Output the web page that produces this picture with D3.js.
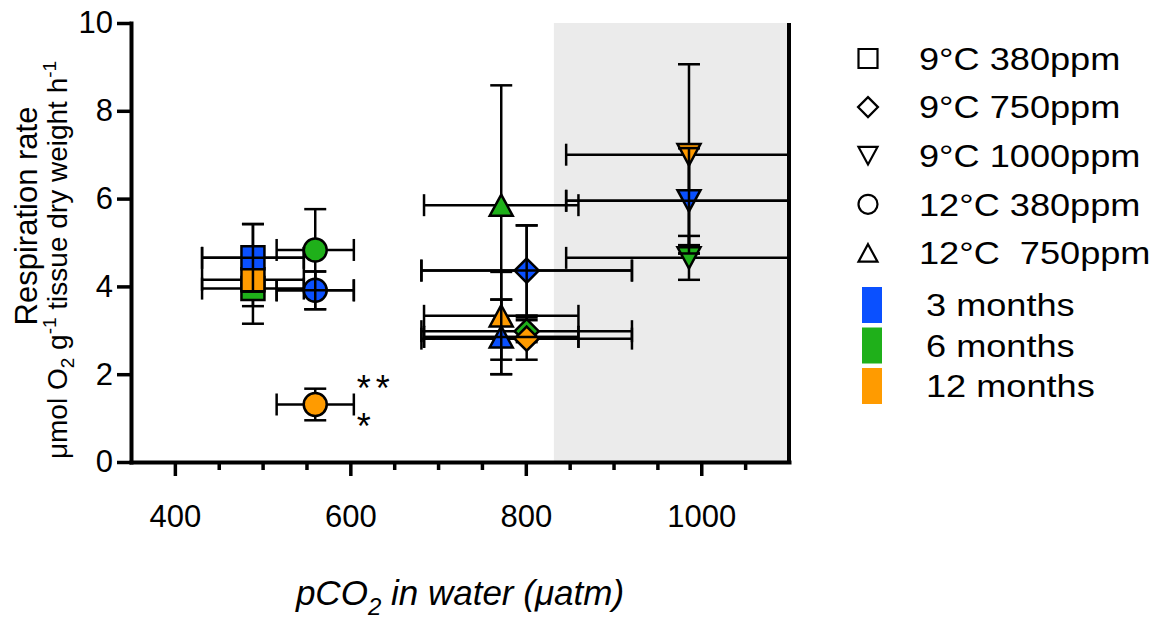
<!DOCTYPE html>
<html>
<head>
<meta charset="utf-8">
<script src="https://cdn.jsdelivr.net/npm/d3@7"></script>
<style>
  body { margin: 0; background: #fff; }
  svg { font-family: "Liberation Sans", Arial, sans-serif; }
</style>
</head>
<body>
<svg id="chart" width="1167" height="625"></svg>
<script>
// data
var months = ["3 months", "6 months", "12 months"];
var monthColors = ["#0a50ff", "#1fb01a", "#ff9b00"];
var treatments = ["9°C 380ppm", "9°C 750ppm", "9°C 1000ppm", "12°C 380ppm", "12°C  750ppm"];
var shapes = ["square", "diamond", "triangleDown", "circle", "triangleUp"];
var pco2 = [489, 801, 986, 560, 772];       // µatm
var pco2Sd = [58, 120, 140, 44, 88];
var rate3 = [4.65, 4.36, 5.95, 3.91, 2.85];
var rate6 = [3.95, 2.98, 4.65, 4.83, 5.85];
var rate12 = [4.15, 2.81, 7.00, 1.31, 3.33];
var sd3 = [0.77, 1.03, 1.20, 0.43, 0.85];
var sd6 = [0.80, 0.25, 0.50, 0.93, 2.73];
var sd12 = [0.60, 0.48, 2.06, 0.36, 1.00];
var xTicks = [400, 600, 800, 1000];
var yTicks = [0, 2, 4, 6, 8, 10];
var shadeFrom = 832;

var rates = [rate3, rate6, rate12],
    sds = [sd3, sd6, sd12];

var points = [];
months.forEach(function (m, mi) {
  treatments.forEach(function (t, ti) {
    points.push({ month: mi, shape: shapes[ti], x: pco2[ti], xe: pco2Sd[ti],
                  y: rates[mi][ti], ye: sds[mi][ti] });
  });
});

var svg = d3.select("#chart"),
    x = d3.scaleLinear().domain([350, 1100]).range([131, 789]),
    y = d3.scaleLinear().domain([0, 10]).range([462, 23]),
    cap = 11;

// shape paths, centred on the point
function shapePath(shape, s) {
  if (shape == "square") return "M" + (-s) + "," + (-s) + "H" + s + "V" + s + "H" + (-s) + "Z";
  if (shape == "diamond") return "M0," + (-s * 1.05) + "L" + s * 1.05 + ",0L0," + s * 1.05 + "L" + (-s * 1.05) + ",0Z";
  if (shape == "triangleUp") return "M0," + (-s * 0.92) + "L" + s + "," + s * 0.92 + "L" + (-s) + "," + s * 0.92 + "Z";
  if (shape == "triangleDown") return "M" + (-s) + "," + (-s * 0.92) + "L" + s + "," + (-s * 0.92) + "L0," + s * 0.92 + "Z";
  return d3.arc()({ innerRadius: 0, outerRadius: s, startAngle: 0, endAngle: 2 * Math.PI });
}

// shaded region
svg.append("rect")
  .attr("x", x(shadeFrom))
  .attr("y", y(10))
  .attr("width", x(1100) - x(shadeFrom))
  .attr("height", y(0) - y(10))
  .attr("fill", "#ebebeb");

svg.append("clipPath").attr("id", "plot")
  .append("rect")
  .attr("x", x(350)).attr("y", 0)
  .attr("width", x(1100) - x(350)).attr("height", y(0));

var plot = svg.append("g").attr("clip-path", "url(#plot)");

function drawBars(sel) {
  sel.each(function (d) {
    var g = d3.select(this);
    var segs = [
      [x(d.x - d.xe), y(d.y), x(d.x + d.xe), y(d.y)],
      [x(d.x), y(d.y - d.ye), x(d.x), y(d.y + d.ye)],
      [x(d.x - d.xe), y(d.y) - cap, x(d.x - d.xe), y(d.y) + cap],
      [x(d.x + d.xe), y(d.y) - cap, x(d.x + d.xe), y(d.y) + cap],
      [x(d.x) - cap, y(d.y - d.ye), x(d.x) + cap, y(d.y - d.ye)],
      [x(d.x) - cap, y(d.y + d.ye), x(d.x) + cap, y(d.y + d.ye)]
    ];
    g.selectAll("line").data(segs).enter().append("line")
      .attr("x1", s => s[0]).attr("y1", s => s[1])
      .attr("x2", s => s[2]).attr("y2", s => s[3])
      .attr("stroke", "#000")
      .attr("stroke-width", 2.5);
  });
}

// error bars, then symbols; 3-month bars sit on top of everything
plot.append("g").selectAll("g")
  .data(points).enter().append("g")
  .call(drawBars);

var drawOrder = [1, 2, 0];
plot.append("g").selectAll("path")
  .data(points.slice().sort((a, b) => drawOrder.indexOf(a.month) - drawOrder.indexOf(b.month)))
  .enter().append("path")
  .attr("d", d => shapePath(d.shape, 11.5))
  .attr("transform", d => "translate(" + x(d.x) + "," + y(d.y) + ")")
  .attr("fill", d => monthColors[d.month])
  .attr("stroke", "#000")
  .attr("stroke-width", 2.5);

plot.append("g").selectAll("g")
  .data(points.filter(d => d.month == 0)).enter().append("g")
  .call(drawBars);

// significance stars next to the 12-month 12°C 380ppm point
var starPt = points.find(d => d.month == 2 && d.shape == "circle");
svg.append("text")
  .attr("x", x(starPt.x + starPt.xe) + 3)
  .attr("y", y(starPt.y) - 3)
  .attr("font-size", 36)
  .attr("letter-spacing", 5)
  .text("**");
svg.append("text")
  .attr("x", x(starPt.x + starPt.xe) + 3)
  .attr("y", y(starPt.y) + 35)
  .attr("font-size", 36)
  .text("*");

// axes
var xAxis = svg.append("g")
  .attr("transform", "translate(0," + y(0) + ")")
  .call(d3.axisBottom(x)
    .tickValues(d3.range(400, 1100, 50))
    .tickSizeOuter(0)
    .tickFormat(d => xTicks.includes(d) ? d : ""));
xAxis.select(".domain").attr("stroke-width", 4).attr("stroke-linecap", "square");
xAxis.selectAll(".tick line")
  .attr("y2", d => xTicks.includes(d) ? 14 : 8)
  .attr("stroke-width", 3.5);
xAxis.selectAll(".tick text")
  .attr("y", 43)
  .attr("font-size", 31)
  .attr("font-family", "Liberation Sans, Arial, sans-serif")
  .attr("fill", "#000");

var yAxis = svg.append("g")
  .attr("transform", "translate(" + x(350) + ",0)")
  .call(d3.axisLeft(y).tickValues(yTicks).tickSize(14).tickPadding(4).tickSizeOuter(0));
yAxis.select(".domain").attr("stroke-width", 4).attr("stroke-linecap", "square");
yAxis.selectAll(".tick line").attr("stroke-width", 3.5);
yAxis.selectAll(".tick text")
  .attr("font-size", 31)
  .attr("font-family", "Liberation Sans, Arial, sans-serif")
  .attr("fill", "#000");

svg.append("line")
  .attr("x1", x(1100)).attr("x2", x(1100))
  .attr("y1", y(0)).attr("y2", y(10))
  .attr("stroke", "#000")
  .attr("stroke-width", 4);

// axis titles
var xt = svg.append("text")
  .attr("x", (x(350) + x(1100)) / 2)
  .attr("y", 605)
  .attr("text-anchor", "middle")
  .attr("font-size", 35)
  .attr("font-style", "italic");
xt.append("tspan").text("pCO");
xt.append("tspan").attr("font-size", 24).attr("dy", 10).text("2");
xt.append("tspan").attr("dy", -10).text(" in water (μatm)");

svg.append("text")
  .attr("transform", "translate(37,216) rotate(-90)")
  .attr("text-anchor", "middle")
  .attr("font-size", 31)
  .text("Respiration rate");

var yt = svg.append("text")
  .attr("transform", "translate(67,260) rotate(-90)")
  .attr("text-anchor", "middle")
  .attr("font-size", 28);
yt.append("tspan").text("μmol O");
yt.append("tspan").attr("font-size", 19).attr("dy", 7).text("2");
yt.append("tspan").attr("dy", -7).text(" g");
yt.append("tspan").attr("font-size", 19).attr("dy", -11).text("-1");
yt.append("tspan").attr("dy", 11).text(" tissue dry weight h");
yt.append("tspan").attr("font-size", 19).attr("dy", -11).text("-1");

// legend: shapes
var legend = svg.append("g");
var shapeRows = legend.selectAll("g.shape")
  .data(treatments).enter().append("g")
  .attr("class", "shape")
  .attr("transform", (d, i) => "translate(868," + (58.5 + i * 48.6) + ")");
shapeRows.append("path")
  .attr("d", (d, i) => shapePath(shapes[i], 9.5))
  .attr("fill", "none")
  .attr("stroke", "#000")
  .attr("stroke-width", 2.2);
shapeRows.append("text")
  .attr("transform", "translate(51,0) scale(1.13,1)")
  .attr("dy", "0.35em")
  .attr("font-size", 32)
  .style("white-space", "pre")
  .text(d => d);

// legend: colours
var colorRows = legend.selectAll("g.month")
  .data(months).enter().append("g")
  .attr("class", "month")
  .attr("transform", (d, i) => "translate(862," + (305 + i * 40.5) + ")");
colorRows.append("rect")
  .attr("x", 0).attr("y", -18)
  .attr("width", 20).attr("height", 36)
  .attr("fill", (d, i) => monthColors[i]);
colorRows.append("text")
  .attr("transform", "translate(64,0) scale(1.13,1)")
  .attr("dy", "0.35em")
  .attr("font-size", 32)
  .text(d => d);
</script>
</body>
</html>
